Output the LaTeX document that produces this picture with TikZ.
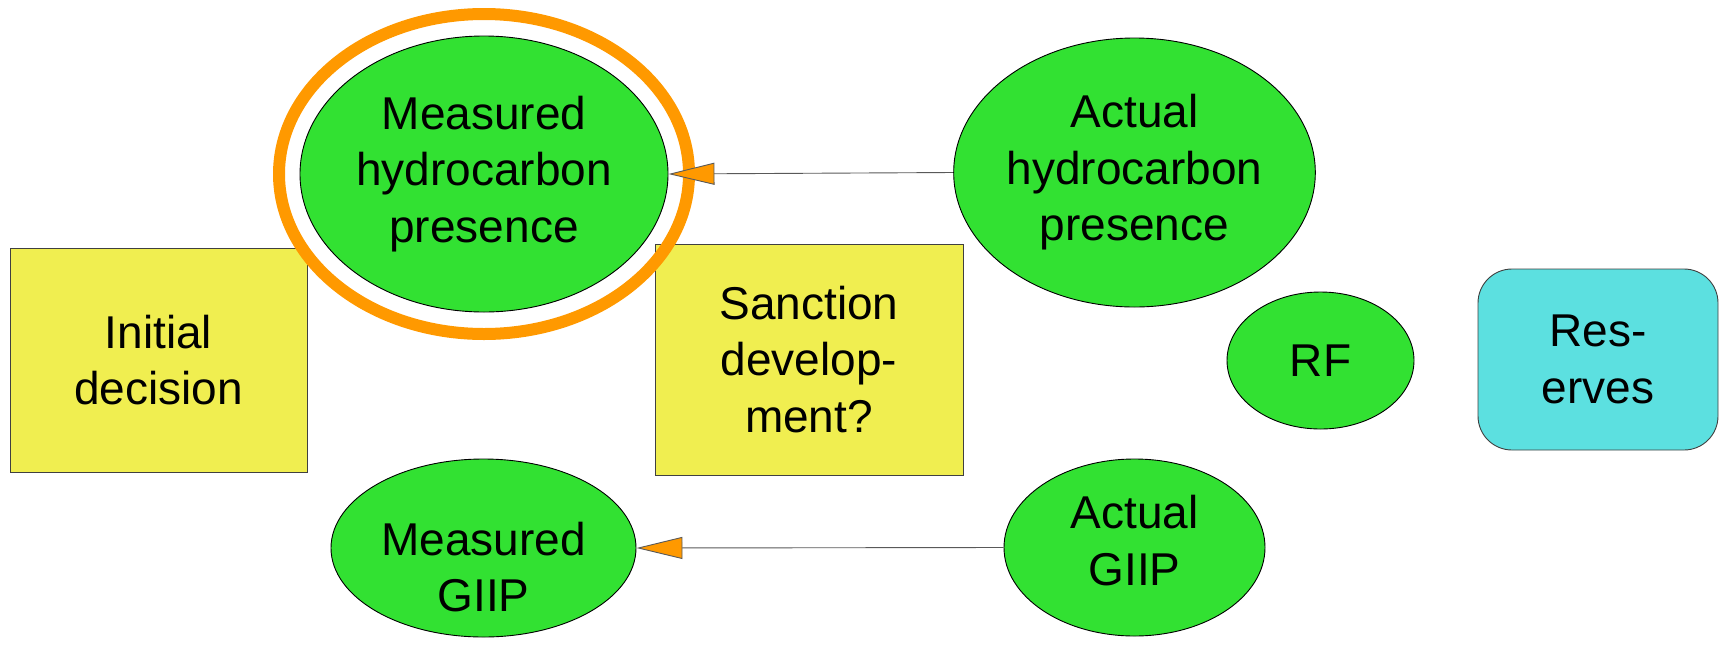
\documentclass[tikz,border=0pt]{standalone}
\usepackage{fontspec}
\setmainfont{Liberation Sans}
\usetikzlibrary{shapes.geometric,arrows.meta}
\definecolor{nodegreen}{RGB}{50,225,50}
\definecolor{boxyellow}{RGB}{240,238,80}
\definecolor{valcyan}{RGB}{92,224,224}
\definecolor{ringorange}{RGB}{255,153,0}
% move a stacked label up or down inside its shape without changing the shape
\newcommand{\shiftedlines}[2]{\raisebox{#1}[\height][\depth]{\begin{tabular}{@{}c@{}}#2\end{tabular}}}
\tikzset{
  labelfont/.style={font=\fontsize{46}{56.5}\selectfont},
  chance/.style={ellipse, draw=black, line width=0.9pt, fill=nodegreen, inner sep=0pt, align=center, labelfont},
  decision/.style={rectangle, draw=black!75, line width=0.9pt, fill=boxyellow, inner sep=0pt, align=center, labelfont},
  value/.style={rectangle, rounded corners=34pt, draw=black!75, line width=0.9pt, fill=valcyan, inner sep=0pt,
    align=center, labelfont},
  infolink/.style={draw=black!65, line width=0.9pt,
    -{Triangle[length=46pt,width=22pt,fill=ringorange]}},
  highlight/.style={draw=ringorange, line width=12pt}
}
\begin{document}
\begin{tikzpicture}[x=1pt,y=-1pt]
\useasboundingbox (0,0) rectangle (1721,657);
% decision boxes
\node[decision, minimum width=297pt, minimum height=224pt] (init) at (158.5,360) {Initial\\decision};
\node[decision, minimum width=308pt, minimum height=231pt] (sanct) at (809,359.5) {Sanction\\develop-\\ment?};
% chance nodes
\node[chance, minimum width=368pt, minimum height=276pt] (mhc) at (484,174) {Measured\\hydrocarbon\\presence};
\node[chance, minimum width=359pt, minimum height=269pt] (ahc) at (1134.5,172.5) {Actual\\hydrocarbon\\presence};
\node[chance, minimum width=187pt, minimum height=137pt] (rf) at (1320.5,360.5) {RF};
\node[chance, minimum width=305pt, minimum height=178pt] (mgiip) at (483.5,548) {\shiftedlines{-24pt}{Measured\\GIIP}};
\node[chance, minimum width=261pt, minimum height=177pt] (agiip) at (1134.5,547.5) {\shiftedlines{2pt}{Actual\\GIIP}};
% value node
\node[value, minimum width=240pt, minimum height=181pt] (res) at (1598,359.5) {Res-\\erves};
% highlight ring around the measured presence node
\draw[highlight] (mhc.center) ellipse [x radius=205pt, y radius=160pt];
% information links
\draw[infolink] (ahc.west) -- (mhc.east);
\draw[infolink] (agiip.west) -- (mgiip.east);
\end{tikzpicture}
\end{document}
